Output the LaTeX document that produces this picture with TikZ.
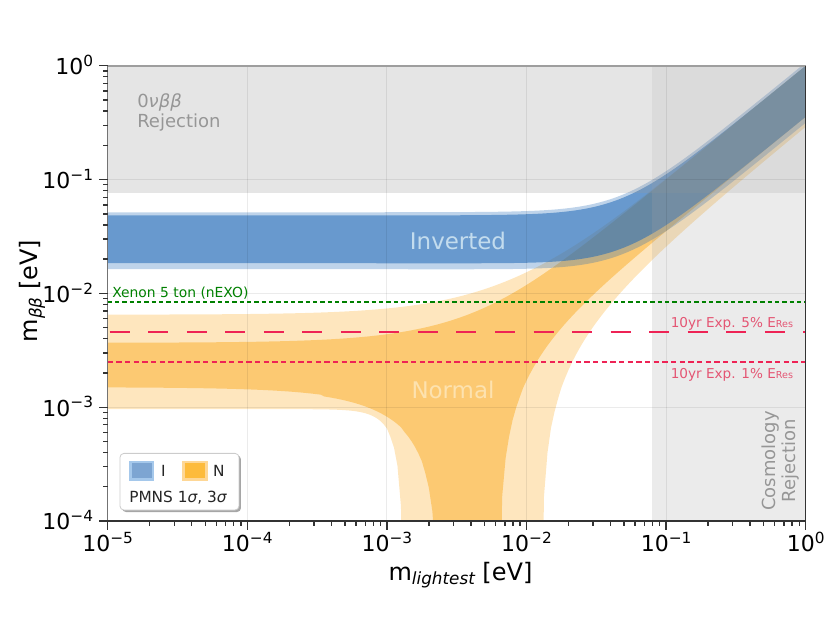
\documentclass[tikz,border=0pt]{standalone}
\usepackage{fontspec}
\setmainfont{DejaVu Sans}
\usetikzlibrary{positioning}
\usetikzlibrary{shadows}

\definecolor{ioblue}{RGB}{40,110,185}
\definecolor{noorange}{RGB}{250,165,20}
\definecolor{xenongreen}{RGB}{0,128,0}
\definecolor{resred}{RGB}{238,35,85}
\definecolor{reslabred}{RGB}{228,85,115}
\definecolor{rejtext}{RGB}{150,150,150}
\definecolor{invtext}{RGB}{195,220,238}
\definecolor{normtext}{RGB}{253,226,175}
\definecolor{iopale}{RGB}{165,200,235}
\definecolor{iodark}{RGB}{125,165,210}
\definecolor{nopale}{RGB}{254,215,150}
\definecolor{nodark}{RGB}{253,187,60}

\newcommand\tenexp[1]{10\raisebox{6.2pt}{\fontsize{11.5}{12}\selectfont #1}}
\newcommand\subsc[1]{\raisebox{-3.5pt}{\fontsize{12.6}{13}\selectfont\itshape #1}}

\begin{document}
\begin{tikzpicture}[x=104.7pt,y=85.35pt,samples=201,
					declare function={
						mu(\x)=10^(\x+2);
						nup(\m)=0.678*\m+0.300*sqrt(\m*\m+0.74)+0.022*sqrt(\m*\m+25);
						nlo(\m)=max(0.300*sqrt(\m*\m+0.74)-0.678*\m-0.022*sqrt(\m*\m+25),
						            0.678*\m-0.300*sqrt(\m*\m+0.74)-0.022*sqrt(\m*\m+25),0.0002);
						nupw(\m)=0.87*\m+0.13*sqrt(\m*\m+25);
						nr(\m)=min(\m,0.2)/0.131;
						nlow(\m)=max(0.096*(1-nr(\m)*nr(\m)*nr(\m)*nr(\m)),0.295*(\m-1.28),0.0002);
						iup(\m)=0.678*sqrt(\m*\m+24.3)+0.300*sqrt(\m*\m+25)+0.022*\m;
						ilo(\m)=0.678*sqrt(\m*\m+24.3)-0.300*sqrt(\m*\m+25)-0.022*\m;
					},
					axtick/.style={line width=1pt,draw=black!80},
					axspine/.style={line width=1.2pt,draw=black!80},
					decgrid/.style={line width=0.75pt,draw=black,opacity=0.08},
					ticklab/.style={inner sep=0,font=\fontsize{16.5}{18}\selectfont},
					axlab/.style={inner sep=0,font=\fontsize{18}{20}\selectfont}]
					\tikzstyle{regionlab}=[inner sep=0,text=rejtext,font=\fontsize{13.5}{15}\selectfont]
					\tikzstyle{bandlab}=[inner sep=0,font=\fontsize{17.2}{19}\selectfont]
					\tikzstyle{reslab}=[inner sep=0,text=reslabred,font=\fontsize{10.2}{12}\selectfont]
					\tikzstyle{leglab}=[inner sep=0,text=black!85,font=\fontsize{11.5}{13}\selectfont]
					\tikzstyle{legpatch}=[inner sep=0,minimum width=16.9pt,minimum height=13.1pt,line width=1.9pt]
					
					\useasboundingbox (-5.7715,-4.8963) rectangle (0.1741,0.5782);
					
					% mass bands
					\begin{scope}
					\clip (-5,-4) rectangle (0,0);
					\fill[noorange,opacity=0.28] plot[domain=-5:0] (\x,{log10(nupw(mu(\x)))-2})
					-- plot[domain=0:-5] (\x,{log10(nlow(mu(\x)))-2}) -- cycle;
					\fill[noorange,opacity=0.444] plot[domain=-5:0] (\x,{log10(nup(mu(\x)))-2})
					-- plot[domain=0:-5] (\x,{log10(nlo(mu(\x)))-2}) -- cycle;
					\fill[ioblue,opacity=0.3] plot[domain=-5:0] (\x,{log10(1.066*iup(mu(\x)))-2})
					-- plot[domain=0:-5] (\x,{log10(0.886*ilo(mu(\x)))-2}) -- cycle;
					\fill[ioblue,opacity=0.571] plot[domain=-5:0] (\x,{log10(iup(mu(\x)))-2})
					-- plot[domain=0:-5] (\x,{log10(ilo(mu(\x)))-2}) -- cycle;
					\end{scope}
					
					% rejected regions
					\fill[black!40,opacity=0.25] (-5,-1.115) rectangle (0,0);
					\fill[black!37,opacity=0.21] (-1.099,-4) rectangle (0,-1.115);
					\fill[black!37,opacity=0.15] (-1.099,-1.115) rectangle (0,0);
					
					\foreach \d in {-4,...,-1} \draw[decgrid] (\d,-4) -- (\d,0);
					\foreach \d in {-3,...,-1} \draw[decgrid] (-5,\d) -- (0,\d);
					
					% sensitivities
					\draw[xenongreen,line width=1.5pt,dash pattern=on 3.2pt off 2.3pt] (-5,-2.076) -- (0,-2.076);
					\draw[resred,line width=1.7pt,dash pattern=on 15pt off 13.9pt,dash phase=-1.5pt] (-5,-2.337) -- (0,-2.337);
					\draw[resred,line width=1.5pt,dash pattern=on 4pt off 2.5pt] (-5,-2.600) -- (0,-2.600);
					
					\node[regionlab,anchor=north west,align=left] (dbdrej) at (-4.79,-0.239) {0\textit{νββ}\\Rejection};
					\node[regionlab,rotate=90,align=center] (cosmorej) at (-0.1805,-3.4727) {Cosmology\\Rejection};
					\node[inner sep=0,text=xenongreen,font=\fontsize{10.4}{12}\selectfont,anchor=base west] (xenon) at (-4.969,-2.0404) {Xenon 5 ton (nEXO)};
					\node[reslab,anchor=base east] (res5) at (-0.0888,-2.2953) {10yr Exp. 5\% E{\fontsize{7.2}{8}\selectfont Res}};
					\node[reslab,anchor=base east] (res1) at (-0.0888,-2.746) {10yr Exp. 1\% E{\fontsize{7.2}{8}\selectfont Res}};
					\node[bandlab,text=invtext,anchor=base] (inv) at (-2.4907,-1.6186) {Inverted};
					\node[bandlab,text=normtext,anchor=base] (norm) at (-2.5265,-2.9218) {Normal};
					
					% legend
					\node[draw=black!20,line width=0.6pt,fill=white,rounded corners=3pt,minimum width=89.25pt,minimum height=42.5pt,
					drop shadow={shadow xshift=1.5pt,shadow yshift=-1.5pt,fill=black,opacity=0.35}] (legend) at (-4.4857,-3.6547) {};
					\node[legpatch,draw=iopale,fill=iodark] (patchI) at (-4.7564,-3.558) {};
					\node[leglab] (labI) [right=5pt of patchI] {I};
					\node[legpatch,draw=nopale,fill=nodark] (patchN) at (-4.3746,-3.558) {};
					\node[leglab] (labN) [right=4pt of patchN] {N};
					\node[leglab,anchor=base west] (pmns) at (-4.8474,-3.8374) {PMNS 1\textit{σ}, 3\textit{σ}};
					
					% axes
					\draw[axspine,draw=black!38] (-5,0) -- (0,0);
					\draw[axspine,draw=black!55] (-5,-4) -- (-5,0);
					\draw[axspine] (-5,-4) -- (0,-4);
					\draw[axspine] (0,-4) -- (0,0);
					
					\foreach \d in {-4,...,0} \draw[axtick] (-5,\d) -- ++(-6.75pt,0);
					\foreach \d in {-5,...,0} \draw[axtick] (\d,-4) -- ++(0,-6.75pt);
					\foreach \d in {-4,...,-1} \foreach \k in {2,...,9} \draw[axtick] (-5,{\d+log10(\k)}) -- ++(-3.75pt,0);
					\foreach \d in {-5,...,-1} \foreach \k in {2,...,9} \draw[axtick] ({\d+log10(\k)},-4) -- ++(0,-3.75pt);
					
					\foreach \d/\e [count=\i] in {-5/−5,-4/−4,-3/−3,-2/−2,-1/−1,0/0}
					\node[ticklab,anchor=base] (xlab\i) at (\d,-4.2698) {\tenexp{\e}};
					\foreach \d/\e [count=\i] in {-4/−4,-3/−3,-2/−2,-1/−1,0/0}
					\node[ticklab,anchor=base east] (ylab\i) at (-5.1032,\d-0.079) {\tenexp{\e}};
					
					\node[axlab,anchor=base] (xtitle) at (-2.4728,-4.5185) {m\subsc{lightest} [eV]};
					\node[axlab,rotate=90] (ytitle) at (-5.5423,-1.979) {m\subsc{ββ} [eV]};
					\end{tikzpicture}
\end{document}
